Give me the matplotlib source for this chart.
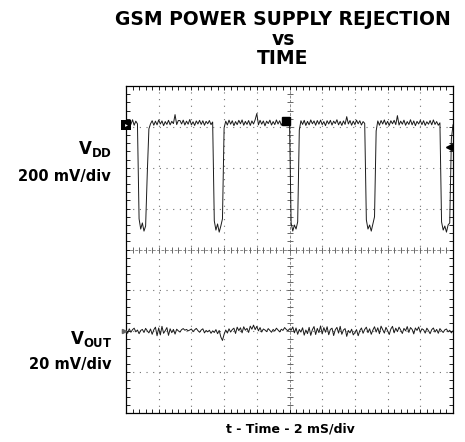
import matplotlib.pyplot as plt
import numpy as np

# GSM power supply rejection vs time (oscilloscope capture)

# Horizontal: 2 ms/div, 10 divisions, one sample every 0.1 ms
t_ms = np.linspace(0, 20, 201)

# VDD in mV relative to its top level (200 mV/div)
vdd_mv = (
    [5, -10, 12, -8, 15, -12, 8, -5]
    + [-470, -520, -490, -530, -505, -250]
    + [-30, -5, 10, -12, 8, -10, 14, -6, 9, -14, 6, -8, 12, -10, 7, -4, 40, -9, 11, 11,
       -6, 13, -11, 8, -7, 16, -10, 5, -13, 9, -6, 12, -8, 10, -12, 7, -5, 11, -9, 4]
    + [-480, -525, -495, -535, -505, -470]
    + [-25, 8, -11, 13, -7, 10, -14, 6, -9, 12, -5, 14, -12, 7, -8, 11, -13, 9, -6, 15,
       45, -10, 12, -7, 9, -15, 8, -4, 13, -11, 6, -9, 14, -6, 10, -12, 5, -8, 12, -10, 3]
    + [-490, -530, -500, -520, -485]
    + [-35, 10, -8, 12, -13, 7, -10, 14, -5, 9, -12, 11, -7, 13, -9, 6, -14, 10, -6, 12,
       -11, 8, -4, 15, -10, 7, -13, 9, -8, 30, -6, 11, -12, 8, -9, 13, -5, 10, -11, 6, -3]
    + [-475, -520, -500, -530, -495, -460]
    + [-40, 9, -12, 11, -6, 14, -10, 7, -13, 10, -5, 12, -9, 35, -11, 8, -7, 13, -12, 6,
       -8, 15, -10, 9, -14, 7, -6, 12, -9, 10, -13, 5, -7, 11, -10, 14, -8, 6, -12, 0]
    + [-485, -525, -505, -535, -500, -490]
    + [-80, -10]
)

# VOUT in mV around its mean (20 mV/div)
vout_mv = [
    0.5, -1.0, 1.2, -0.5, 0.8, 1.5, -0.3, 0.6, -1.2, 0.4,
    0.9, -0.6, 1.4, 0.2, -0.8, 1.1, -1.5, 0.7, 2.0, -2.2,
    1.6, -1.8, 2.4, -1.0, 0.3, 1.8, -2.0, 1.2, -0.7, 0.9,
    -1.4, 1.0, 0.2, -0.4, 0.8, 1.3, 0.5, 0.9, 0.2, 0.6,
    1.1, -0.2, 0.7, 1.4, 0.3, -0.5, 0.6, 1.2, -0.8, 0.4,
    -0.3, 0.5, -1.0, 0.2, -0.6, 0.8, -1.2, 0.4, -2.8, -4.5,
    -1.5, 0.6, -0.9, 1.2, -0.4, 0.8, 1.5, -1.1, 2.0, 0.3,
    1.7, -0.8, 2.2, 0.5, 1.4, -0.6, 2.5, 1.0, 3.0, 0.8,
    2.4, 0.2, 1.8, -0.4, 1.1, 0.6, -0.2, 1.3, 0.4, -0.5,
    0.9, 0.1, 1.5, 0.6, -0.3, 1.0, 0.4, 1.8, 0.9, 0.2,
    1.2, 0.5, 2.1, -0.8, 1.6, -1.5, 0.9, -0.4, 1.7, -1.9,
    0.6, -1.2, 1.9, -2.0, 0.8, 2.3, -1.6, 1.4, -0.7, 2.6,
    -1.3, 1.8, -0.5, 2.2, -1.7, 0.9, 1.5, -2.1, 0.7, 1.9,
    -0.9, 2.4, -1.5, 0.6, 1.3, -2.5, 0.4, -0.8, 1.0, -1.8,
    -0.6, 0.8, -2.2, 0.3, 1.6, -1.0, 0.9, 2.0, -0.7, 1.2,
    -1.5, 0.6, 2.2, -0.4, 1.7, -1.2, 2.5, 0.8, -0.9, 1.9,
    0.3, -1.6, 1.1, 2.4, -0.8, 1.5, -0.2, 2.0, 0.6, -1.1,
    1.4, 0.2, 2.3, -0.6, 1.8, 0.9, -1.3, 1.6, 0.4, 2.1,
    -0.5, 1.2, 0.7, -0.9, 1.5, 0.3, -1.2, 0.8, 1.6, -0.4,
    0.9, -1.0, 1.3, 0.2, -0.6, 0.7, 1.1, -0.3, 0.5, -0.8,
    0.2,
]

vdd_scale = 200.0   # mV/div
vout_scale = 20.0   # mV/div
vdd_pos = 3.1       # screen position of VDD top level (div)
vout_pos = -2.0     # screen position of VOUT (div)

fig = plt.figure(figsize=(4.65, 4.42), dpi=100)
ax = fig.add_axes([126 / 465, 29 / 442, 327 / 465, 327 / 442])
ax.set_xlim(0, 20)
ax.set_ylim(-4, 4)

# border ticks, 5 per division
ax.set_xticks(np.arange(0, 20.01, 0.4))
ax.set_yticks(np.arange(-4, 4.01, 0.2))
ax.tick_params(direction="in", length=3, width=0.6, top=True, right=True,
               labelbottom=False, labelleft=False)
for s in ax.spines.values():
    s.set_linewidth(0.9)

# dotted graticule
for x in [2, 4, 6, 8, 12, 14, 16, 18]:
    ax.axvline(x, color="0.45", lw=0.8, ls=(0, (1, 5)), zorder=1)
for y in [-3, -2, -1, 1, 2, 3]:
    ax.axhline(y, color="0.45", lw=0.8, ls=(0, (1, 5)), zorder=1)

# center cross with minor ticks
xm = np.arange(0, 20.01, 0.4)
ym = np.arange(-4, 4.01, 0.2)
ax.axhline(0, color="0.55", lw=0.7, ls=(0, (3, 1.5)), zorder=1)
ax.axvline(10, color="0.55", lw=0.7, ls=(0, (3, 1.5)), zorder=1)
ax.plot(xm, np.zeros_like(xm), ls="none", marker="|", ms=4, mew=0.7, color="0.4", zorder=1)
ax.plot(np.full_like(ym, 10), ym, ls="none", marker="_", ms=4, mew=0.7, color="0.4", zorder=1)

# traces
ax.plot(t_ms, vdd_pos + np.array(vdd_mv) / vdd_scale, color="0.1", lw=0.7, zorder=3)
ax.plot(t_ms, vout_pos + np.array(vout_mv) / vout_scale, color="0.1", lw=0.7, zorder=3)

# scope markers
ax.plot(0, 3.05, marker="s", ms=7, color="black", mew=0, clip_on=False, zorder=4)
ax.plot(0.02, 3.05, marker=">", ms=2, color="white", mew=0, clip_on=False, zorder=5)
ax.plot(9.8, 3.15, marker="s", ms=6, color="black", zorder=4)
ax.plot(19.75, 2.5, marker="<", ms=4, color="black", zorder=4)
ax.plot(-0.1, vout_pos, marker=">", ms=3, color="0.4", clip_on=False, zorder=4)

# text
fig.text(283 / 465, 1 - 10 / 442, "GSM POWER SUPPLY REJECTION\nvs\nTIME",
         ha="center", va="top", fontsize=13.5, fontweight="bold", linespacing=1.05)
fig.text(112 / 465, 1 - 154 / 442, r"$\mathbf{V_{DD}}$", ha="right", va="baseline", fontsize=12)
fig.text(111 / 465, 1 - 181 / 442, "200 mV/div", ha="right", va="baseline",
         fontsize=10.5, fontweight="bold")
fig.text(112 / 465, 1 - 344 / 442, r"$\mathbf{V_{OUT}}$", ha="right", va="baseline", fontsize=12)
fig.text(111 / 465, 1 - 369 / 442, "20 mV/div", ha="right", va="baseline",
         fontsize=10.5, fontweight="bold")
fig.text(290 / 465, 1 - 433 / 442, "t - Time - 2 mS/div", ha="center", va="baseline",
         fontsize=9, fontweight="bold")

fig.savefig("out.png", dpi=100)
